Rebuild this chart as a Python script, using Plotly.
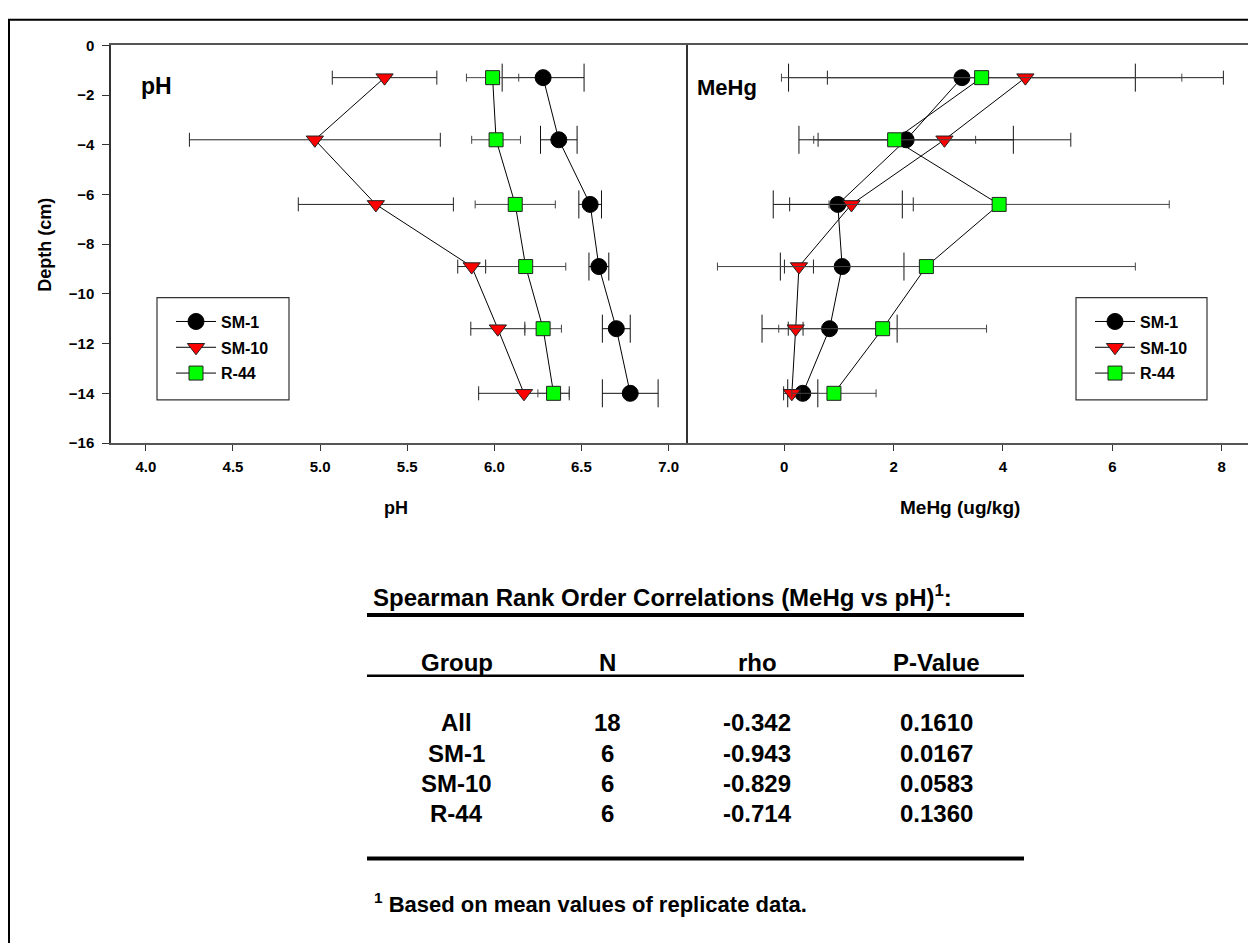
import plotly.graph_objects as go

# ---------------- data ----------------
depth = [-1.3, -3.8, -6.4, -8.9, -11.4, -14.0]

ph_sm1 = [6.28, 6.37, 6.55, 6.60, 6.70, 6.78]
ph_sm1_err = [0.235, 0.105, 0.065, 0.057, 0.08, 0.16]
ph_sm10 = [5.37, 4.97, 5.32, 5.87, 6.02, 6.17]
ph_sm10_err = [0.30, 0.72, 0.445, 0.08, 0.155, 0.26]
ph_r44 = [5.99, 6.01, 6.12, 6.18, 6.28, 6.34]
ph_r44_err = [0.15, 0.14, 0.23, 0.23, 0.105, 0.09]

mehg_sm1 = [3.25, 2.23, 0.98, 1.06, 0.83, 0.34]
mehg_sm1_err = [3.17, 1.96, 1.18, 1.13, 1.235, 0.275]
mehg_sm10 = [4.41, 2.93, 1.23, 0.27, 0.21, 0.14]
mehg_sm10_err = [3.62, 2.31, 1.13, 0.265, 0.135, 0.15]
mehg_r44 = [3.61, 2.02, 3.93, 2.60, 1.80, 0.91]
mehg_r44_err = [3.66, 1.48, 3.11, 3.82, 1.90, 0.77]

series_names = ["SM-1", "SM-10", "R-44"]

table_header = ["Group", "N", "rho", "P-Value"]
table_group = ["All", "SM-1", "SM-10", "R-44"]
table_n = ["18", "6", "6", "6"]
table_rho = ["-0.342", "-0.943", "-0.829", "-0.714"]
table_p = ["0.1610", "0.0167", "0.0583", "0.1360"]

# ---------------- helpers ----------------
W, H = 1248, 943
FONT = "Liberation Sans, Arial, Helvetica, sans-serif"


def px(x):
    return x / W


def py(y):
    return 1 - y / H


styles = {
    "SM-1": dict(marker=dict(symbol="circle", size=16, color="black",
                             line=dict(color="black", width=1)),
                 err_color="#111111", cap=14),
    "SM-10": dict(marker=dict(symbol="triangle-down", size=15, color="#FF0000",
                              line=dict(color="#222222", width=1)),
                  err_color="#222222", cap=7),
    "R-44": dict(marker=dict(symbol="square", size=14, color="#00FF00",
                             line=dict(color="#222222", width=1)),
                 err_color="#444444", cap=4),
}

fig = go.Figure()

panels = [
    ("x", "y", "legend", [ph_sm1, ph_sm10, ph_r44],
     [ph_sm1_err, ph_sm10_err, ph_r44_err]),
    ("x2", "y2", "legend2", [mehg_sm1, mehg_sm10, mehg_r44],
     [mehg_sm1_err, mehg_sm10_err, mehg_r44_err]),
]

for xa, ya, leg, vals, errs in panels:
    for name, v, e in zip(series_names, vals, errs):
        st = styles[name]
        fig.add_trace(go.Scatter(
            x=v, y=depth, name=name, mode="lines+markers",
            xaxis=xa, yaxis=ya, legend=leg, legendgroup=leg + name,
            line=dict(color="black", width=1),
            marker=st["marker"],
            error_x=dict(type="data", array=e, symmetric=True,
                         color=st["err_color"], thickness=1, width=st["cap"]),
            hoverinfo="x+y+name",
        ))

axis_line = "#555555"
tick_font = dict(family=FONT, size=15, color="black", weight="bold")

fig.update_layout(
    width=W, height=H,
    margin=dict(l=0, r=0, t=0, b=0),
    paper_bgcolor="white", plot_bgcolor="white",
    font=dict(family=FONT, color="black", weight="bold"),
    showlegend=True,
    xaxis=dict(domain=[px(111), px(686)], range=[3.8, 7.1], anchor="y",
               tick0=4.0, dtick=0.5, tickformat=".1f",
               ticks="outside", ticklen=6, tickcolor="#333333",
               ticklabelstandoff=3, tickfont=tick_font,
               showline=True, mirror=True, linecolor=axis_line, linewidth=1.5,
               showgrid=False, zeroline=False),
    yaxis=dict(domain=[py(442), py(37)], range=[-16, 0], anchor="x",
               tick0=0, dtick=2, ticks="outside", ticklen=7,
               tickcolor="#333333", ticklabelstandoff=5, tickfont=tick_font,
               showline=True, mirror=True, linecolor="#333333", linewidth=1.5,
               showgrid=False, zeroline=False),
    xaxis2=dict(domain=[px(686), 1.0], range=[-1.795, 8.48], anchor="y2",
                tick0=0, dtick=2, ticks="outside", ticklen=6,
                tickcolor="#333333", ticklabelstandoff=3, tickfont=tick_font,
                showline=True, mirror=True, linecolor=axis_line, linewidth=1.5,
                showgrid=False, zeroline=False),
    yaxis2=dict(domain=[py(442), py(37)], range=[-16, 0], anchor="x2",
                showticklabels=False, ticks="", showline=False,
                showgrid=False, zeroline=False),
    legend=dict(x=px(157 + 14), y=py(301), xanchor="left", yanchor="top",
                bgcolor="rgba(0,0,0,0)", borderwidth=0, itemwidth=40,
                tracegroupgap=2, font=dict(family=FONT, size=16, weight="bold")),
    legend2=dict(x=px(1076 + 14), y=py(301), xanchor="left", yanchor="top",
                 bgcolor="rgba(0,0,0,0)", borderwidth=0, itemwidth=40,
                 tracegroupgap=2, font=dict(family=FONT, size=16, weight="bold")),
)

shapes = []
# outer frame of the figure
shapes.append(dict(type="rect", xref="paper", yref="paper",
                   x0=px(9), x1=1.02, y0=-0.02, y1=py(11),
                   line=dict(color="black", width=2)))
# legend boxes
for x0, x1 in [(157, 289), (1076, 1207)]:
    shapes.append(dict(type="rect", xref="paper", yref="paper",
                       x0=px(x0), x1=px(x1), y0=py(398), y1=py(294),
                       line=dict(color="#333333", width=1.2)))
# table rules
for yy, wdt in [(617, 4), (679, 2.5), (865, 4)]:
    shapes.append(dict(type="line", xref="paper", yref="paper",
                       x0=px(367), x1=px(1024), y0=py(yy), y1=py(yy),
                       line=dict(color="black", width=wdt)))
fig.update_layout(shapes=shapes)

ann = []


def text(t, x, y, size, xanchor="center", yanchor="middle", angle=0):
    ann.append(dict(text=t, x=px(x), y=py(y), xref="paper", yref="paper",
                    xanchor=xanchor, yanchor=yanchor, showarrow=False,
                    textangle=angle,
                    font=dict(family=FONT, size=size, color="black",
                              weight="bold")))


# panel labels and axis titles
text("pH", 156, 78, 23)
text("MeHg", 727, 80, 22)
text("Depth (cm)", 45, 240, 18, angle=-90)
text("pH", 396, 508, 18)
text("MeHg (ug/kg)", 960, 508, 19)

# correlation table
text("Spearman Rank Order Correlations (MeHg vs pH)<sup>1</sup>:",
     371, 598, 24, xanchor="left")
col_x = [457, 607, 757, 936]
for cx, h in zip(col_x, table_header):
    text(h, cx, 665, 24)
row_y = [727, 758, 789, 819]
for i, ry in enumerate(row_y):
    for cx, col in zip(col_x, [table_group, table_n, table_rho, table_p]):
        text(col[i], cx, ry, 24)

text("<sup>1</sup> Based on mean values of replicate data.", 372, 910, 22,
     xanchor="left")

fig.update_layout(annotations=ann)

fig.write_html("out.html")
